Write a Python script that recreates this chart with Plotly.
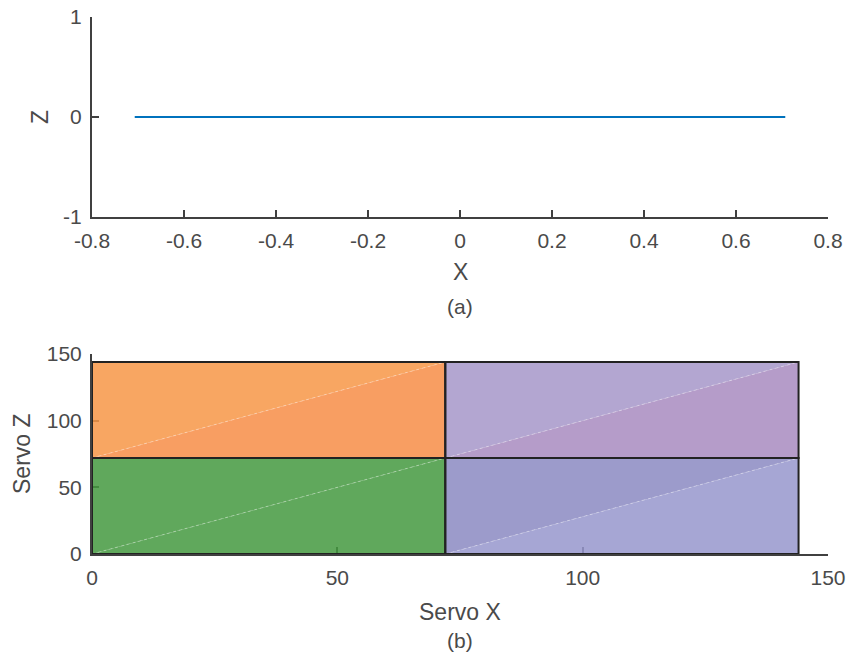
import plotly.graph_objects as go

# ---- data ----
line_x = [-0.7071, 0.7071]
line_z = [0, 0]

rect_x0 = [0, 72, 0, 72]
rect_x1 = [72, 144, 72, 144]
rect_z0 = [0, 0, 72, 72]
rect_z1 = [72, 72, 144, 144]
# observed colours of the upper-left and lower-right triangles of each cell
upper_colors = [(96, 168, 92), (156, 155, 203), (248, 167, 99), (179, 167, 209)]
lower_colors = [(96, 168, 92), (167, 166, 212), (248, 158, 98), (181, 156, 201)]

top_xticks = [-0.8, -0.6, -0.4, -0.2, 0, 0.2, 0.4, 0.6, 0.8]
top_xlabels = ["-0.8", "-0.6", "-0.4", "-0.2", "0", "0.2", "0.4", "0.6", "0.8"]
top_yticks = [-1, 0, 1]
top_ylabels = ["-1", "0", "1"]
bot_ticks = [0, 50, 100, 150]

ALPHA = 0.85


def rgba(c):
    base = [max(0, min(255, round((v - (1 - ALPHA) * 255) / ALPHA))) for v in c]
    return f"rgba({base[0]},{base[1]},{base[2]},{ALPHA})"


FONT = "Liberation Sans, Arial, sans-serif"
AX = "#404040"
TXT = "#4a4a4a"

fig = go.Figure()

fig.add_trace(go.Scatter(x=line_x, y=line_z, mode="lines",
                         line=dict(color="#0072BD", width=2),
                         xaxis="x", yaxis="y", showlegend=False, hoverinfo="skip"))

for i in range(len(rect_x0)):
    x0, x1, z0, z1 = rect_x0[i], rect_x1[i], rect_z0[i], rect_z1[i]
    fig.add_trace(go.Scatter(x=[x0, x1, x0, x0], y=[z0, z1, z1, z0], mode="lines",
                             fill="toself", fillcolor=rgba(upper_colors[i]),
                             line=dict(width=0), xaxis="x2", yaxis="y2",
                             showlegend=False, hoverinfo="skip"))
    fig.add_trace(go.Scatter(x=[x0, x1, x1, x0], y=[z0, z0, z1, z0], mode="lines",
                             fill="toself", fillcolor=rgba(lower_colors[i]),
                             line=dict(width=0), xaxis="x2", yaxis="y2",
                             showlegend=False, hoverinfo="skip"))
    fig.add_trace(go.Scatter(x=[x0, x1], y=[z0, z1], mode="lines",
                             line=dict(color="rgba(255,255,255,0.35)", width=1, dash="dot"),
                             xaxis="x2", yaxis="y2", showlegend=False, hoverinfo="skip"))

for i in range(len(rect_x0)):
    x0, x1, z0, z1 = rect_x0[i], rect_x1[i], rect_z0[i], rect_z1[i]
    fig.add_trace(go.Scatter(x=[x0, x1, x1, x0, x0], y=[z0, z0, z1, z1, z0], mode="lines",
                             line=dict(color="#222222", width=2),
                             xaxis="x2", yaxis="y2", showlegend=False, hoverinfo="skip"))

W, H = 848, 662
xd = [92 / W, 828 / W]
top_d = [1 - 217 / H, 1 - 17 / H]
bot_d = [1 - 554 / H, 1 - 354 / H]

axis_common = dict(showgrid=False, zeroline=False, showline=True, linecolor=AX,
                   linewidth=2, ticks="inside", ticklen=7, tickwidth=2, tickcolor=AX,
                   tickfont=dict(family=FONT, size=21, color=TXT), mirror=False,
                   layer="below traces", ticklabelstandoff=4, automargin=False)

fig.update_layout(
    width=W, height=H, margin=dict(l=0, r=0, t=0, b=0, autoexpand=False), autosize=False,
    paper_bgcolor="white", plot_bgcolor="white",
    xaxis=dict(domain=xd, range=[-0.8, 0.8], tickvals=top_xticks, ticktext=top_xlabels,
               anchor="y", **axis_common),
    yaxis=dict(domain=top_d, range=[-1, 1], tickvals=top_yticks, ticktext=top_ylabels,
               anchor="x", **axis_common),
    xaxis2=dict(domain=xd, range=[0, 150], tickvals=bot_ticks, anchor="y2", **axis_common),
    yaxis2=dict(domain=bot_d, range=[0, 150], tickvals=bot_ticks, anchor="x2", **axis_common),
)


def lab(text, x, y, angle=0, size=23):
    fig.add_annotation(text=text, x=x / W, y=1 - y / H, xref="paper", yref="paper",
                       showarrow=False, textangle=angle,
                       font=dict(family=FONT, size=size, color=TXT),
                       xanchor="center", yanchor="middle")


lab("X", 460, 272)
lab("(a)", 460, 306, size=21)
lab("Z", 40, 117, angle=-90)
lab("Servo X", 460, 612)
lab("(b)", 460, 640, size=21)
lab("Servo Z", 22, 454, angle=-90)

fig.write_html("out.html", config={"displayModeBar": False},
               post_script="document.body.style.margin='0';")
